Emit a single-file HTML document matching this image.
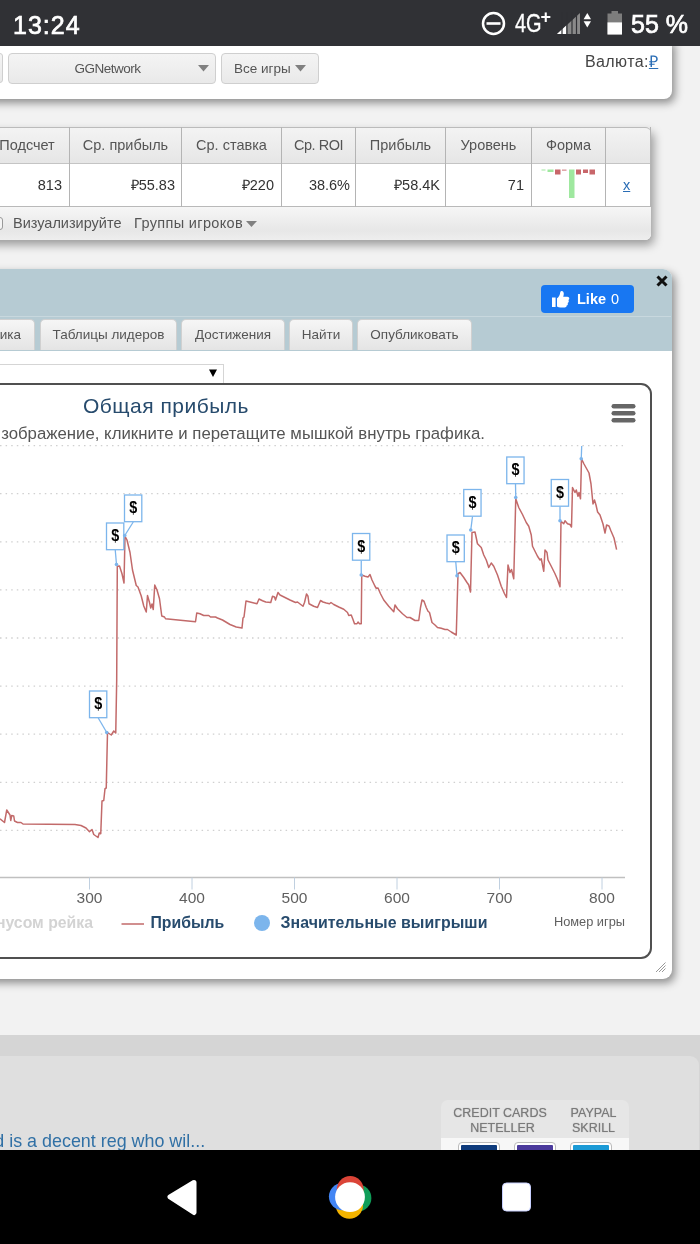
<!DOCTYPE html>
<html lang="ru">
<head>
<meta charset="utf-8">
<title>Общая прибыль</title>
<style>
*{box-sizing:border-box;margin:0;padding:0}
html,body{width:700px;height:1244px;overflow:hidden}
body{position:relative;background:#f2f2f2;font-family:"Liberation Sans",sans-serif;color:#555;}
.abs{position:absolute}
.t{position:absolute;white-space:nowrap;line-height:1}
/* status bar */
#status{left:0;top:0;width:700px;height:46px;background:#303135;z-index:50}
#status .t{color:#fff}
/* top panel */
#toppanel{left:-20px;top:40px;width:692px;height:58.500px;background:#fff;border-radius:0 0 8px 0;box-shadow:3px 4px 9px rgba(0,0,0,.42)}
.btn{position:absolute;height:31px;top:53px;border:1px solid #cfcfcf;border-radius:4px;background:linear-gradient(#f4f4f4,#e9e9e9);}
/* table */
#tbl{left:-20px;top:127px;width:671px;height:113px;background:linear-gradient(#ebebeb,#f3f3f3);border-radius:0 6px 6px 0;box-shadow:3px 5px 10px rgba(0,0,0,.36);border-top:1px solid #bdbdbd}
#thead{left:0;top:127px;width:651px;height:36px;background:linear-gradient(#f3f3f3,#e6e6e6);border-radius:0 6px 0 0;border-top:1px solid #bbb}
#trow{left:0;top:163px;width:651px;height:44px;background:#fff;border-top:1px solid #c4c4c4;border-bottom:1px solid #b9b9b9}
.vd{position:absolute;width:1px;background:#b4b4b4;top:127px;height:80px}
.th{position:absolute;top:137px;font-size:14.5px;color:#555;line-height:16px;text-align:center;white-space:nowrap}
.td{position:absolute;top:177px;font-size:14.5px;color:#333;line-height:16px;text-align:right;white-space:nowrap}
/* main panel */
#main{left:-20px;top:268.500px;width:692px;height:710.500px;background:#fff;border-radius:0 9px 9px 0;box-shadow:3px 4px 9px rgba(0,0,0,.42);overflow:hidden}
#mainhead{left:0;top:0;width:692px;height:82px;background:#b6cbd3}
.tab{position:absolute;top:319px;height:31px;border:1px solid #d0d0d0;border-bottom:none;border-radius:5px 5px 0 0;background:linear-gradient(#f6f6f6,#e4e4e4);font-size:13.5px;color:#555;text-align:center;line-height:30px;white-space:nowrap}
/* bottom */
#foot1{left:0;top:1035px;width:700px;height:130px;background:#d5d5d5}
#foot2{left:-20px;top:1055.500px;width:719px;height:120px;background:#dfdfdf;border-radius:0 9px 0 0}
.pay{font-size:12.500px;color:#7a7a7a;text-align:center;line-height:15px;text-shadow:0 0 1px #999}
.card{position:absolute;top:1143px;width:40px;height:20px;border:2px solid #fff;outline:1px solid #bbb;border-radius:3px}
#nav{left:0;top:1150px;width:700px;height:94px;background:#000;z-index:50}
</style>
</head>
<body>

<!-- top filter panel -->
<div id="toppanel" class="abs"></div>
<div class="btn" style="left:-6px;width:9px;border-radius:0 3px 3px 0;height:30px"></div>
<div class="btn" style="left:8px;width:208px"></div>
<div class="t" style="left:74.500px;top:62px;font-size:13.5px;letter-spacing:-.5px;color:#555">GGNetwork</div>
<div class="btn" style="left:221px;width:98px"></div>
<div class="t" style="left:234px;top:62px;font-size:13.5px;color:#555">Все игры</div>
<svg class="abs" style="left:198px;top:65px" width="12" height="7"><path d="M0 0H11L5.5 6.5Z" fill="#808080"/></svg>
<svg class="abs" style="left:295px;top:65px" width="12" height="7"><path d="M0 0H11L5.5 6.5Z" fill="#808080"/></svg>
<div class="t" style="left:585px;top:54px;font-size:16px;letter-spacing:.4px;color:#444">Валюта:<span style="color:#2a6db5;text-decoration:underline">₽</span></div>

<!-- stats table -->
<div id="tbl" class="abs"></div>
<div class="abs" style="left:0;top:207px;width:651px;height:33px;border-radius:0 0 6px 0;background:linear-gradient(#f6f6f6 0%,#e7e7e7 72%,#eeeeee 100%)"></div>
<div id="thead" class="abs"></div>
<div id="trow" class="abs"></div>
<div class="vd" style="left:69px"></div>
<div class="vd" style="left:181px"></div>
<div class="vd" style="left:281px"></div>
<div class="vd" style="left:355px"></div>
<div class="vd" style="left:445px"></div>
<div class="vd" style="left:531px"></div>
<div class="vd" style="left:605px"></div>
<div class="vd" style="left:650px"></div>
<div class="th" style="left:-15px;width:84px">Подсчет</div>
<div class="th" style="left:70px;width:111px">Ср. прибыль</div>
<div class="th" style="left:182px;width:99px">Ср. ставка</div>
<div class="th" style="left:282px;width:73px;letter-spacing:-.5px">Ср. ROI</div>
<div class="th" style="left:356px;width:89px">Прибыль</div>
<div class="th" style="left:446px;width:85px">Уровень</div>
<div class="th" style="left:532px;width:73px">Форма</div>
<div class="td" style="right:638px">813</div>
<div class="td" style="right:525px">₽55.83</div>
<div class="td" style="right:426px">₽220</div>
<div class="td" style="right:350px">38.6%</div>
<div class="td" style="right:260px">₽58.4K</div>
<div class="td" style="right:176px">71</div>
<div class="td" style="left:623px;color:#2a6db5;text-decoration:underline">x</div>
<div class="t" style="left:13px;top:216px;font-size:14.5px;color:#555">Визуализируйте</div>
<div class="t" style="left:134px;top:216px;font-size:14.5px;letter-spacing:.35px;color:#555">Группы игроков</div>
<svg class="abs" style="left:246px;top:221px" width="12" height="7"><path d="M0 0H11L5.5 6Z" fill="#808080"/></svg>


<svg class="abs" style="left:540px;top:165px" width="60" height="40" viewBox="540 165 60 40">
<g fill="#9fe89f"><rect x="541.500" y="169.500" width="4" height="1"/><rect x="547.500" y="169.500" width="6" height="2.500"/><rect x="569" y="169.500" width="5.500" height="28.500"/></g>
<g fill="#c8666a"><rect x="562" y="169.500" width="4.500" height="1.300" opacity=".7"/><rect x="555" y="169.500" width="5.500" height="5"/><rect x="576" y="169.500" width="5" height="5"/><rect x="583" y="169.500" width="5" height="3.500"/><rect x="589.500" y="169.500" width="5.500" height="5"/></g>
</svg>
<div class="abs" style="left:-10.500px;top:217px;width:13px;height:13px;border:1px solid #999;border-radius:3px;background:#f4f4f4"></div>

<!-- main panel -->
<div id="main" class="abs">
  <div id="mainhead" class="abs"></div>
</div>

<!-- main panel content -->
<div class="abs" style="left:0;top:316px;width:671px;height:1px;background:rgba(255,255,255,.25)"></div>
<div class="abs" style="left:541px;top:285px;width:93px;height:28px;background:#1877f2;border-radius:4px"></div>
<svg class="abs" style="left:551px;top:288.500px" width="20" height="20" viewBox="0 0 20 20"><path d="M1 8.5h3.6v9.5H1z" fill="#fff"/><path d="M6 9.2c1.6-1 2.6-2.600 3-4.500.2-1.200.2-2.700 1.600-2.700 1.500 0 2.200 1.300 2.200 2.800 0 1-.3 2-.6 2.900h4.200c1.100 0 1.900.8 1.900 1.800 0 .7-.4 1.300-1 1.600.3.300.5.700.5 1.200 0 .8-.5 1.400-1.200 1.600.2.300.3.600.3 1 0 .8-.6 1.500-1.400 1.600.1.200.1.400.1.600 0 .9-.8 1.400-1.900 1.400H9.500c-1.300 0-2.400-.4-3.500-1z" fill="#fff"/></svg>
<div class="t" style="left:577px;top:292px;font-size:14.5px;font-weight:bold;color:#fff">Like</div>
<div class="t" style="left:611px;top:292px;font-size:14.5px;color:#fff">0</div>
<svg class="abs" style="left:656px;top:275px" width="12" height="12" viewBox="0 0 12 12"><path d="M1.500 1.500L10.500 10.500M10.500 1.500L1.500 10.500" stroke="#111" stroke-width="3" fill="none"/></svg>

<div class="tab" style="left:-10px;width:45px;text-align:right;padding-right:13px">ика</div>
<div class="tab" style="left:40px;width:137px">Таблицы лидеров</div>
<div class="tab" style="left:181px;width:104px">Достижения</div>
<div class="tab" style="left:289px;width:64px">Найти</div>
<div class="tab" style="left:357px;width:115px">Опубликовать</div>

<div class="abs" style="left:-5px;top:364px;width:229px;height:20px;border:1px solid #d5d5d5;background:#fff"></div>
<svg class="abs" style="left:209px;top:369px" width="9" height="9"><path d="M0 0.500H8L4 8Z" fill="#000"/></svg>

<div class="abs" style="left:-20px;top:383px;width:672px;height:576px;border:2px solid #505050;border-radius:11px;background:#fff"></div>

<svg class="abs" style="left:0;top:0" width="700" height="1244" viewBox="0 0 700 1244" font-family="'Liberation Sans',sans-serif">
<style>
.g line{stroke:#d0d0d0;stroke-width:1.300;stroke-dasharray:1.500 4.100}
.tk line{stroke:#c0d0e0;stroke-width:1}
.ax text{font-size:15.500px;fill:#606060}
.dl{font-size:17px;font-weight:bold;fill:#000}
</style>
<text x="166" y="413.400" text-anchor="middle" font-size="21" letter-spacing=".5" fill="#274b6d">Общая прибыль</text>
<text x="485" y="438.500" text-anchor="end" font-size="16.800" fill="#555">Чтобы увеличить изображение, кликните и перетащите мышкой внутрь графика.</text>
<g class="g"><line x1="0" x2="623" y1="445.6" y2="445.6"/><line x1="0" x2="623" y1="493.7" y2="493.7"/><line x1="0" x2="623" y1="541.8" y2="541.8"/><line x1="0" x2="623" y1="589.9" y2="589.9"/><line x1="0" x2="623" y1="638.0" y2="638.0"/><line x1="0" x2="623" y1="686.1" y2="686.1"/><line x1="0" x2="623" y1="734.2" y2="734.2"/><line x1="0" x2="623" y1="782.3" y2="782.3"/><line x1="0" x2="623" y1="830.4" y2="830.4"/></g>
<line x1="0" x2="625" y1="877.5" y2="877.5" stroke="#c0c0c0" stroke-width="1.300"/>
<g class="tk"><line x1="89.5" x2="89.5" y1="877.5" y2="889.5"/><line x1="192" x2="192" y1="877.5" y2="889.5"/><line x1="294.5" x2="294.5" y1="877.5" y2="889.5"/><line x1="397" x2="397" y1="877.5" y2="889.5"/><line x1="499.5" x2="499.5" y1="877.5" y2="889.5"/><line x1="602" x2="602" y1="877.5" y2="889.5"/></g>
<g class="ax"><text x="89.5" y="903" text-anchor="middle">300</text><text x="192" y="903" text-anchor="middle">400</text><text x="294.5" y="903" text-anchor="middle">500</text><text x="397" y="903" text-anchor="middle">600</text><text x="499.5" y="903" text-anchor="middle">700</text><text x="602" y="903" text-anchor="middle">800</text></g>
<polyline fill="none" stroke="#c26a6a" stroke-width="1.500" stroke-linejoin="round" points="0,818.75 4.5,822.5 6.75,810 10,815 10.75,820.5 11.75,815.5 13.75,816 14.5,821 17.5,822.5 21,822.5 23,824 75,824.5 81,825.5 86,828 89.5,831.7 92,829.5 93.75,834.5 98,837.5 99.25,833 100.75,833.75 102,801 103.75,800.5 105,788.75 106.25,788 107.5,732.5 111.25,735 113.75,731 115.75,733 116.7,680 117.3,566.25 119.5,566 122,573.75 124,583 125,536.25 127,540 130,552.5 132.5,570 136.25,585.5 138,587 141.25,596 143.75,606 146.25,612 147.5,595.5 149.5,602.5 150.75,608 152,604 153.25,609.5 154.75,585 157,590 159.5,598.75 161.75,616 164.5,617 165.5,618.75 195.5,621.75 196.75,613 200,613.75 203.75,615.5 208.75,615.5 210.5,617 215.5,617 217.5,618 222.5,620 230,624.5 236.25,627 242,628 243,618 244,617 246,601 250,602 257,603.75 259,599 262.5,600.75 265.75,602 270.75,602.5 272.5,596.25 274.5,597 275.5,600 278,592.5 280,595 285,597.5 290,600 295.5,602.5 297.5,602 303,606.25 304.5,602.5 306.5,594 308,596.25 309,603.75 313.75,606.25 317.5,607.5 320.5,600.5 323,602 326.25,603 329.5,603.75 331,602.5 333.75,604.5 338.75,607 343.75,609.25 347.5,612.5 348.75,615.5 351.25,615 353,619.5 354.5,623.75 357,623.75 358,622 359.5,623.75 361.25,623.75 361.75,575 365,576.25 368,577 370,574.5 372,580 375,586.25 376.25,588.25 378,588 380.5,593.75 383.75,600 388.75,606.25 393.75,611.75 395,605 397.5,608.75 402.5,613.75 407,617.5 410,617.5 415,620.5 418.75,620.5 420.5,607.5 422,600 424,601.25 426.25,607.5 428,611.25 429.5,612.5 432,622.5 435,625 437.5,627.5 441.25,628.25 445,629.5 447.5,629.5 451.25,632 456.25,635 458,573.75 460,572.5 463.75,577.5 467,582.5 468.75,585 470.5,592 472,532.5 475,532 477.5,543.75 481.25,547.5 483.75,555 486.25,560 488.75,567.5 491.25,563 493.75,566.25 497.5,575 501.25,586.25 504.5,593.75 506.5,597.5 508,565 510,572.5 511.5,569.5 513.75,578.75 515.75,498.75 518.75,507.5 522.5,514.5 526.25,522.5 528.75,526.25 531.25,535 532.5,546.25 535,551.25 537.5,556.25 540,560 541.25,558.75 543.75,571.25 545,550 547,552.5 548,560 551.25,566.25 555,573.75 557.5,579.5 560,586.75 561,521.25 563.75,523.75 565,520.75 567.5,523.75 570,524.5 571.5,527 572.5,487.5 575,492.5 576.25,490 578,496.25 579,492.5 580.5,498.75 581.5,458.75 584,464 589,473 591,484 593,504 594.5,500 596,505 597.6,512 600,515 603,524 605,533 606.6,525 609,526 611,531 614,538 616.6,549.6"/>
<path d="M98.25 718.00L106.75 732.5" stroke="#7cb5ec" stroke-width="1.3" fill="none"/><circle cx="106.75" cy="732.5" r="1.8" fill="#7cb5ec"/><rect x="89.5" y="691" width="17.300" height="26.700" fill="#fff" stroke="#7cb5ec" stroke-width="1.3"/><text x="98.25" y="709.20" text-anchor="middle" class="dl" textLength="8" lengthAdjust="spacingAndGlyphs">$</text><path d="M115.25 550.00L116.5 564.5" stroke="#7cb5ec" stroke-width="1.3" fill="none"/><circle cx="116.5" cy="564.5" r="1.8" fill="#7cb5ec"/><rect x="106.5" y="523" width="17.300" height="26.700" fill="#fff" stroke="#7cb5ec" stroke-width="1.3"/><text x="115.25" y="541.20" text-anchor="middle" class="dl" textLength="8" lengthAdjust="spacingAndGlyphs">$</text><path d="M133.25 522.00L124.75 535.5" stroke="#7cb5ec" stroke-width="1.3" fill="none"/><circle cx="124.75" cy="535.5" r="1.8" fill="#7cb5ec"/><rect x="124.5" y="495" width="17.300" height="26.700" fill="#fff" stroke="#7cb5ec" stroke-width="1.3"/><text x="133.25" y="513.20" text-anchor="middle" class="dl" textLength="8" lengthAdjust="spacingAndGlyphs">$</text><path d="M361.25 560.50L361.25 575" stroke="#7cb5ec" stroke-width="1.3" fill="none"/><circle cx="361.25" cy="575" r="1.8" fill="#7cb5ec"/><rect x="352.5" y="533.5" width="17.300" height="26.700" fill="#fff" stroke="#7cb5ec" stroke-width="1.3"/><text x="361.25" y="551.70" text-anchor="middle" class="dl" textLength="8" lengthAdjust="spacingAndGlyphs">$</text><path d="M455.75 562.00L457 575.75" stroke="#7cb5ec" stroke-width="1.3" fill="none"/><circle cx="457" cy="575.75" r="1.8" fill="#7cb5ec"/><rect x="447" y="535" width="17.300" height="26.700" fill="#fff" stroke="#7cb5ec" stroke-width="1.3"/><text x="455.75" y="553.20" text-anchor="middle" class="dl" textLength="8" lengthAdjust="spacingAndGlyphs">$</text><path d="M472.50 516.50L470.75 530" stroke="#7cb5ec" stroke-width="1.3" fill="none"/><circle cx="470.75" cy="530" r="1.8" fill="#7cb5ec"/><rect x="463.75" y="489.5" width="17.300" height="26.700" fill="#fff" stroke="#7cb5ec" stroke-width="1.3"/><text x="472.50" y="507.70" text-anchor="middle" class="dl" textLength="8" lengthAdjust="spacingAndGlyphs">$</text><path d="M515.50 484.00L515.75 497.5" stroke="#7cb5ec" stroke-width="1.3" fill="none"/><circle cx="515.75" cy="497.5" r="1.8" fill="#7cb5ec"/><rect x="506.75" y="457" width="17.300" height="26.700" fill="#fff" stroke="#7cb5ec" stroke-width="1.3"/><text x="515.50" y="475.20" text-anchor="middle" class="dl" textLength="8" lengthAdjust="spacingAndGlyphs">$</text><path d="M560.00 506.50L560 520.75" stroke="#7cb5ec" stroke-width="1.3" fill="none"/><circle cx="560" cy="520.75" r="1.8" fill="#7cb5ec"/><rect x="551.25" y="479.5" width="17.300" height="26.700" fill="#fff" stroke="#7cb5ec" stroke-width="1.3"/><text x="560.00" y="497.70" text-anchor="middle" class="dl" textLength="8" lengthAdjust="spacingAndGlyphs">$</text><path d="M581.25 458.75L581.7 446" stroke="#7cb5ec" stroke-width="1.3" fill="none"/><circle cx="581.25" cy="458.75" r="1.8" fill="#7cb5ec"/>
<g fill="#666"><rect x="611.5" y="404" width="24" height="4.500" rx="2.200"/><rect x="611.5" y="411" width="24" height="4.500" rx="2.200"/><rect x="611.5" y="418" width="24" height="4.500" rx="2.200"/></g>
<text x="93" y="928.200" text-anchor="end" font-size="15.800" font-weight="bold" fill="#d3d3d3">С бонусом рейка</text>
<line x1="121.5" x2="144" y1="924" y2="924" stroke="#c26a6a" stroke-width="1.500"/>
<text x="150.500" y="928.200" font-size="15.800" font-weight="bold" fill="#274b6d">Прибыль</text>
<circle cx="262" cy="923" r="8" fill="#7cb5ec"/>
<text x="280.500" y="928.200" font-size="15.900" letter-spacing=".05" font-weight="bold" fill="#274b6d">Значительные выигрыши</text>
<text x="625" y="926" text-anchor="end" font-size="12.800" fill="#606060">Номер игры</text>
<g stroke="#999" stroke-width="1" fill="none"><path d="M656 972L665.500 962.500M659 972L665.500 965.500M662 972L665.500 968.500"/></g>
</svg>

<!-- footer -->
<div id="foot1" class="abs"></div>
<div id="foot2" class="abs"></div>

<div class="t" style="left:-5.700px;top:1133.300px;font-size:17.900px;color:#3070a5">d is a decent reg who wil...</div>
<div class="abs" style="left:441px;top:1100px;width:188px;height:60px;background:#e6e6e6;border-radius:7px 7px 0 0"></div>
<div class="abs" style="left:441px;top:1138px;width:188px;height:22px;background:#f7f7f7"></div>
<div class="t pay" style="left:441px;width:118px;top:1106px">CREDIT CARDS</div>
<div class="t pay" style="left:441px;width:123px;top:1121px">NETELLER</div>
<div class="t pay" style="left:559px;width:69px;top:1106px">PAYPAL</div>
<div class="t pay" style="left:559px;width:69px;top:1121px">SKRILL</div>
<div class="card" style="left:459px;background:#0e3b7c"></div>
<div class="card" style="left:515px;background:#4b3a9c"></div>
<div class="card" style="left:571px;background:#1b9ad6"></div>

<!-- android status bar -->
<div id="status" class="abs">
  <div class="t" style="left:13px;top:12.700px;font-size:25px;letter-spacing:1px;-webkit-text-stroke:.7px #fff">13:24</div>
  <svg class="abs" style="left:0;top:0" width="700" height="46" viewBox="0 0 700 46">
    <circle cx="493.500" cy="23.500" r="10.500" fill="none" stroke="#fff" stroke-width="2.500"/>
    <rect x="486.500" y="22.200" width="14" height="2.600" fill="#fff"/>
    <path d="M557 34L580 13V34Z" fill="#8a8a8a"/>
    <path d="M557 34L566 25.800V34Z" fill="#fff"/>
    <g stroke="#303135" stroke-width="1.200"><line x1="562" x2="562" y1="12" y2="35"/><line x1="567" x2="567" y1="12" y2="35"/><line x1="572" x2="572" y1="12" y2="35"/><line x1="576.500" x2="576.500" y1="12" y2="35"/></g>
    <path d="M587.300 13L591 19.200H583.600Z" fill="#fff"/>
    <path d="M587.300 27.500L591 21.300H583.600Z" fill="#fff"/>
    <path d="M611.500 11h6.500v2.500h4v21h-14.500v-21h4z" fill="#7d7d7d"/>
    <rect x="607.500" y="22.400" width="14.500" height="12.100" fill="#fff"/>
  </svg>
  <div class="t" style="left:515px;top:10.500px;font-size:25px;transform:scaleX(.8);transform-origin:0 0;-webkit-text-stroke:.3px #fff">4G</div>
  <div class="t" style="left:540.500px;top:8px;font-size:18px;font-weight:bold;">+</div>
  <div class="t" style="left:631px;top:12px;font-size:25px;letter-spacing:0;-webkit-text-stroke:.7px #fff">55 %</div>
</div>
<!-- android nav bar -->
<div id="nav" class="abs">
<svg class="abs" style="left:0;top:0" width="700" height="94" viewBox="0 1150 700 94">
<path d="M194 1182.500L170 1197L194 1212.500Z" fill="#fff" stroke="#fff" stroke-width="5" stroke-linejoin="round"/>
<circle cx="357.900" cy="1198" r="13.500" fill="#0f9d58"/>
<circle cx="349.400" cy="1205.100" r="13.700" fill="#f4b400"/>
<circle cx="342.600" cy="1196.600" r="13.700" fill="#4285f4"/>
<circle cx="350.200" cy="1189.400" r="13.400" fill="#db4437"/>
<circle cx="350" cy="1197.100" r="14.900" fill="#fff"/>
<rect x="502.500" y="1183" width="28" height="28" rx="4" fill="#fff" stroke="#c8d0ff" stroke-width="1"/>
</svg>
</div>
</body>
</html>
